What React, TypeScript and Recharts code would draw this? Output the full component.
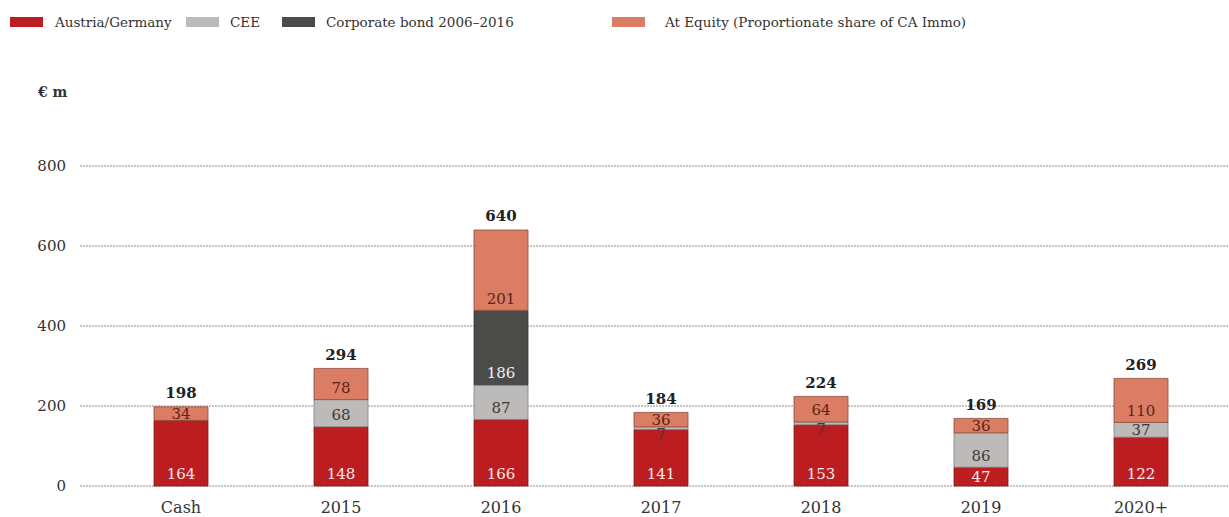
import React from 'react';
import { BarChart, Bar, XAxis, YAxis, CartesianGrid, LabelList } from 'recharts';

const categories = ['Cash', '2015', '2016', '2017', '2018', '2019', '2020+'];
const austria = [164, 148, 166, 141, 153, 47, 122];
const cee = [0, 68, 87, 7, 7, 86, 37];
const bond = [0, 0, 186, 0, 0, 0, 0];
const equity = [34, 78, 201, 36, 64, 36, 110];
const totals = [198, 294, 640, 184, 224, 169, 269];
const yTicks = [0, 200, 400, 600, 800];

const data = categories.map((c, i) => ({
  name: c,
  austria: austria[i],
  cee: cee[i],
  bond: bond[i],
  equity: equity[i],
}));

const FONT = '"DejaVu Serif", "Liberation Serif", serif';
const COLORS = {
  austria: '#bb1d21',
  cee: '#bdbbb9',
  bond: '#4b4b4a',
  equity: '#db7d64',
};

const segLabel = (color: string) => (props: any) => {
  const { x, y, width, height, value } = props;
  if (!value) return null;
  const h = Number(height);
  const bottom = Number(y) + h;
  const cy = h < 8 ? bottom + 4 : Math.max(bottom - 12, Number(y) + h / 2);
  return (
    <text
      x={Number(x) + Number(width) / 2}
      y={cy}
      dy="0.36em"
      textAnchor="middle"
      fill={color}
      fontSize={15}
      fontFamily={FONT}
    >
      {value}
    </text>
  );
};

const totalLabel = (props: any) => {
  const { x, y, width, index } = props;
  return (
    <text
      x={Number(x) + Number(width) / 2}
      y={Number(y) - 14}
      dy="0.36em"
      textAnchor="middle"
      fill="#222"
      fontSize={15}
      fontWeight="bold"
      fontFamily={FONT}
    >
      {totals[index]}
    </text>
  );
};

const legendItems = [
  { label: 'Austria/Germany', color: COLORS.austria, sx: 10, tx: 55 },
  { label: 'CEE', color: COLORS.cee, sx: 186, tx: 230 },
  { label: 'Corporate bond 2006–2016', color: COLORS.bond, sx: 282, tx: 326 },
  { label: 'At Equity (Proportionate share of CA Immo)', color: COLORS.equity, sx: 612, tx: 665 },
];

export default function App() {
  return (
    <div style={{ position: 'absolute', left: 0, top: 0, width: 1229, height: 517, background: '#fff' }}>
      {legendItems.map((it) => (
        <React.Fragment key={it.label}>
          <div
            style={{
              position: 'absolute',
              left: it.sx,
              top: 17,
              width: 33,
              height: 10,
              background: it.color,
            }}
          />
          <div
            style={{
              position: 'absolute',
              left: it.tx,
              top: 12,
              fontFamily: FONT,
              fontSize: 13.5,
              color: '#333',
              whiteSpace: 'nowrap',
              lineHeight: '20px',
            }}
          >
            {it.label}
          </div>
        </React.Fragment>
      ))}
      <div
        style={{
          position: 'absolute',
          left: 38,
          top: 82,
          fontFamily: FONT,
          fontSize: 14,
          fontWeight: 'bold',
          color: '#333',
          lineHeight: '20px',
        }}
      >
        € m
      </div>
      <BarChart
        width={1229}
        height={517}
        data={data}
        margin={{ top: 166, right: 0, bottom: 0, left: 0 }}
        barSize={54}
        style={{ position: 'absolute', left: 0, top: 0 }}
      >
        <CartesianGrid
          vertical={false}
          stroke="#8a8a8a"
          strokeDasharray="2 1"
          horizontalValues={yTicks}
        />
        <XAxis
          dataKey="name"
          axisLine={false}
          tickLine={false}
          tickSize={0}
          tickMargin={16}
          height={31}
          padding={{ left: 21, right: 8 }}
          tick={{ fill: '#333', fontSize: 16, fontFamily: FONT }}
          interval={0}
        />
        <YAxis
          width={80}
          domain={[0, 800]}
          ticks={yTicks}
          axisLine={false}
          tickLine={false}
          tickSize={0}
          tickMargin={14}
          tick={{ fill: '#333', fontSize: 15, fontFamily: FONT }}
        />
        <Bar dataKey="austria" stackId="a" fill={COLORS.austria} stroke="#7d1a1a" strokeWidth={0.8} isAnimationActive={false}>
          <LabelList dataKey="austria" content={segLabel('#fbeaea')} />
        </Bar>
        <Bar dataKey="cee" stackId="a" fill={COLORS.cee} stroke="#7f7e7c" strokeWidth={0.8} isAnimationActive={false}>
          <LabelList dataKey="cee" content={segLabel('#3a3a3a')} />
        </Bar>
        <Bar dataKey="bond" stackId="a" fill={COLORS.bond} stroke="#333" strokeWidth={0.8} isAnimationActive={false}>
          <LabelList dataKey="bond" content={segLabel('#f0f0f0')} />
        </Bar>
        <Bar dataKey="equity" stackId="a" fill={COLORS.equity} stroke="#8d4a3a" strokeWidth={0.8} isAnimationActive={false}>
          <LabelList dataKey="equity" content={segLabel('#5a2418')} />
          <LabelList dataKey="equity" content={totalLabel} />
        </Bar>
      </BarChart>
    </div>
  );
}
